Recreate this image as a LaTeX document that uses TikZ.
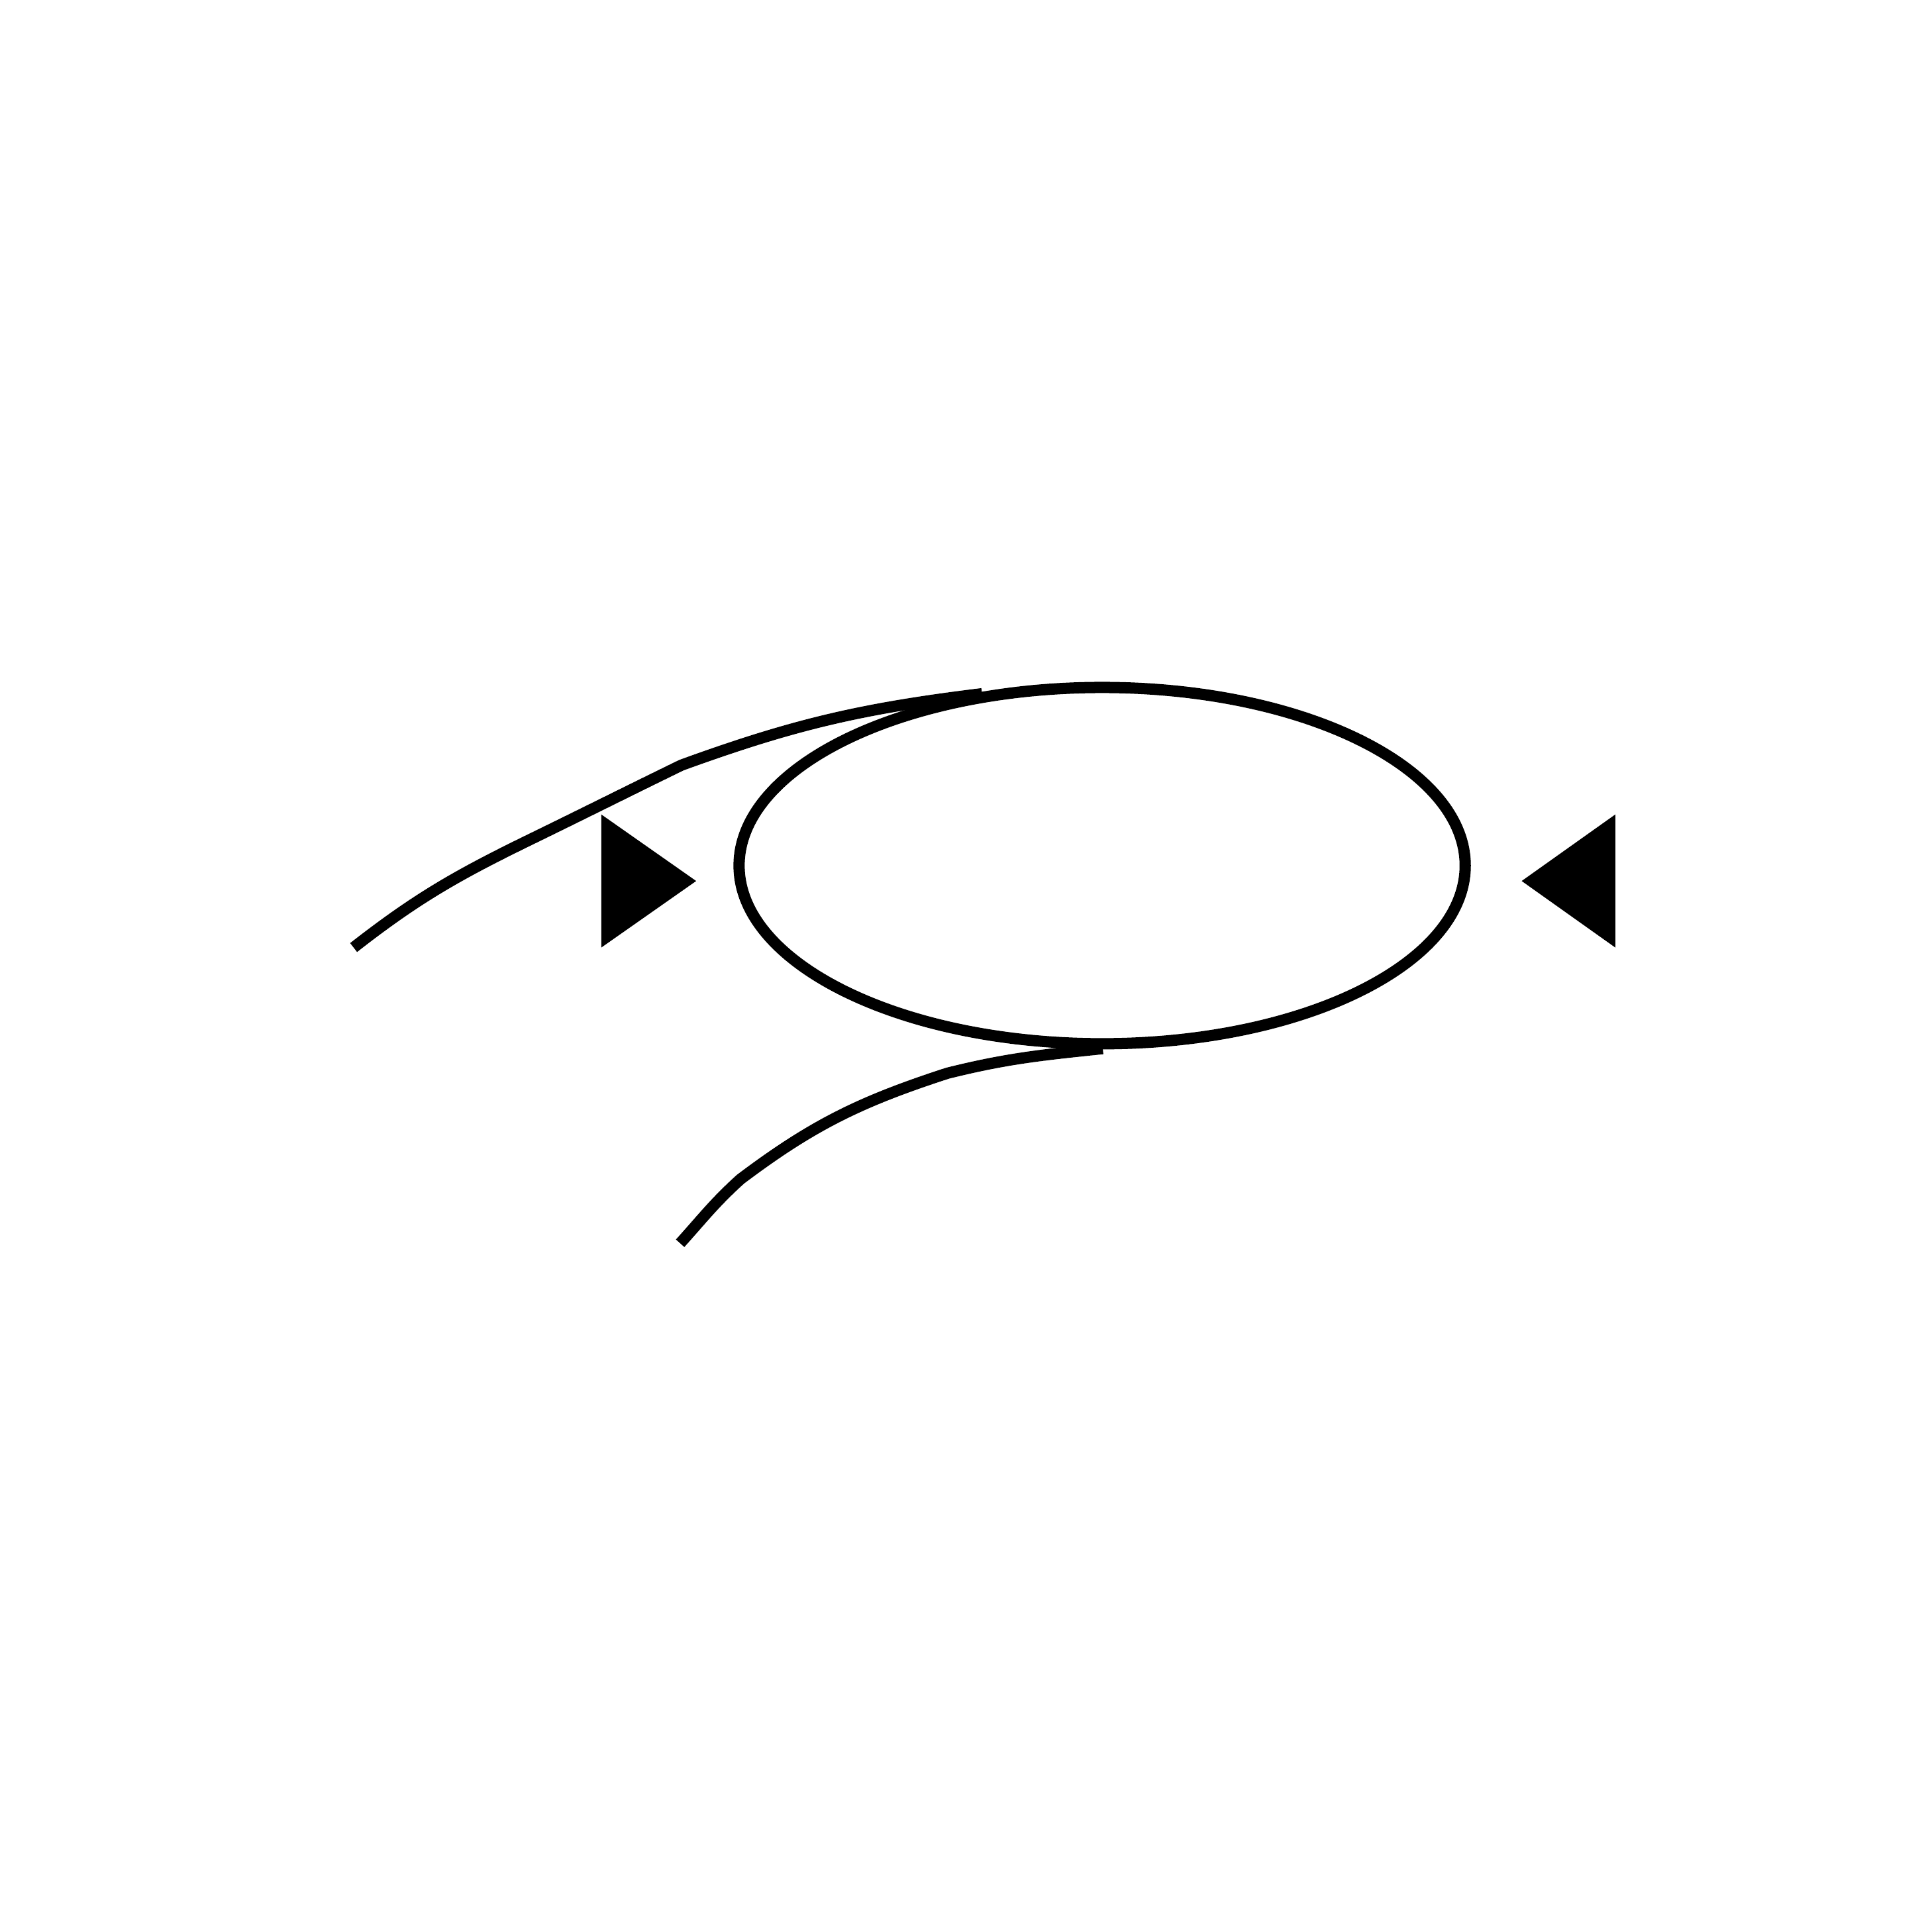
\documentclass[tikz,border=0pt]{standalone}
\usetikzlibrary{positioning, shapes.geometric}

\begin{document}
\begin{tikzpicture}[
    x=0.01cm, y=0.01cm,
    wire/.style={line width=2.6pt, black},
    loopbox/.style={draw, ellipse, line width=2.6pt, minimum width=5.89cm, minimum height=2.89cm, inner sep=0pt, outer sep=0pt},
    marker/.style={fill=black, draw=none}
]
\useasboundingbox (0,-1568) rectangle (1568,0);

% The loop
\node[loopbox] (loop) at (894.5,-702.5) {};

% Markers on both sides
\fill[marker] (488,-661) -- (488,-769) -- (565,-715) -- cycle;
\fill[marker] (1311,-661) -- (1311,-769) -- (1235,-715) -- cycle;

% Ends and bends of the wire
\coordinate (upperend) at (287,-769);
\coordinate (upperbendA) at (431,-681);
\coordinate (upperbendB) at (553,-621);
\coordinate (upperjoin) at (797,-563);
\coordinate (lowerend) at (552,-1009);
\coordinate (lowerbendA) at (601,-957);
\coordinate (lowerbendB) at (769,-871);
\coordinate (lowerjoin) at (895,-851);

% Wire into the loop
\draw[wire] (upperend) to[out=38, in=206] (upperbendA) to[out=26, in=206] (upperbendB) to[out=20, in=187] (upperjoin);
\draw[wire] (lowerend) to[out=48, in=222] (lowerbendA) to[out=37, in=198] (lowerbendB) to[out=14, in=186] (lowerjoin);

\end{tikzpicture}
\end{document}
